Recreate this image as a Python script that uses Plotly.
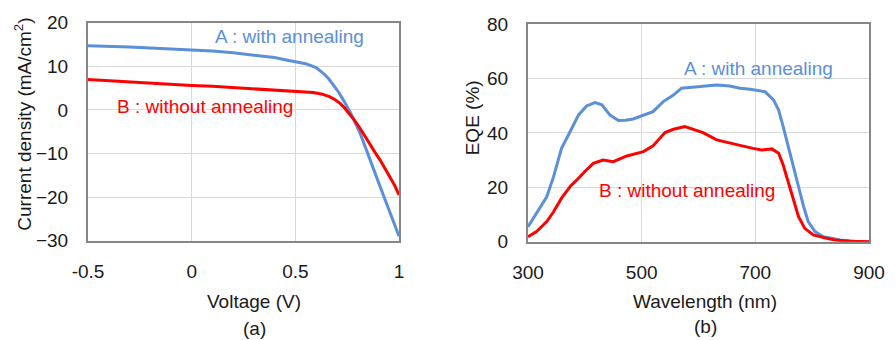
import plotly.graph_objects as go

# ---- Data: (a) J-V curves ----
volt_a = [-0.5, -0.4, -0.3, -0.2, -0.1, 0.0, 0.1, 0.2, 0.3, 0.4, 0.45, 0.5, 0.55, 0.6, 0.635,
          0.66, 0.683, 0.71, 0.731, 0.75, 0.771, 0.79, 0.812, 0.835, 0.86, 0.885, 0.909, 0.933,
          0.957, 0.98, 1.0]
curr_a = [14.7, 14.6, 14.4, 14.2, 14.0, 13.8, 13.5, 13.1, 12.6, 12.0, 11.5, 11.1, 10.6, 9.7, 8.4,
          7.2, 5.7, 4.0, 2.3, 0.7, -1.1, -3.1, -5.3, -8.2, -11.5, -14.5, -17.6, -20.6,
          -23.7, -26.3, -29.0]
volt_b = [-0.5, -0.4, -0.3, -0.2, -0.1, 0.0, 0.1, 0.2, 0.3, 0.4, 0.5, 0.587, 0.63, 0.667, 0.69,
          0.716, 0.74, 0.764, 0.79, 0.812, 0.835, 0.86, 0.885, 0.909, 0.933, 0.957, 0.98, 1.0]
curr_b = [7.0, 6.7, 6.5, 6.2, 5.9, 5.6, 5.4, 5.1, 4.8, 4.5, 4.3, 4.0, 3.6, 3.0, 2.4,
          1.5, 0.3, -1.1, -2.7, -4.2, -6.0, -8.0, -9.8, -11.5, -13.4, -15.3, -17.4, -19.5]

# ---- Data: (b) EQE spectra ----
wl_a = [300, 315, 333, 345, 359, 374, 389, 403, 418, 430, 444, 459, 472, 485, 503, 520, 538,
        556, 570, 591, 608, 632, 655, 673, 691, 717, 732, 741, 749, 758, 767, 776, 785, 793, 805,
        820, 849, 878, 900]
eqe_a = [5.5, 10.4, 16.5, 23.9, 34.3, 40.4, 46.6, 49.9, 51.1, 50.3, 46.6, 44.5, 44.6, 45.1,
         46.6, 47.8, 51.5, 53.9, 56.4, 56.8, 57.2, 57.6, 57.2, 56.4, 56.0, 55.1, 52.1, 48.4, 42.3,
         34.9, 27.6, 20.2, 12.9, 7.4, 3.7, 1.8, 0.6, 0.1, 0.0]
wl_b = [300, 315, 333, 345, 359, 375, 389, 400, 415, 432, 450, 474, 503, 520, 541, 556, 576, 591,
        608, 632, 655, 673, 696, 711, 729, 741, 749, 758, 767, 776, 787, 802, 820, 840, 866, 900]
eqe_b = [1.8, 3.7, 7.4, 11.0, 16.0, 20.5, 23.3, 25.8, 28.8, 30.0, 29.4, 31.5, 33.1, 35.2, 40.1,
         41.3, 42.3, 41.4, 40.1, 37.4, 36.4, 35.4, 34.3, 33.7, 34.1, 32.5, 28.2, 22.1, 15.3, 9.2,
         4.9, 2.5, 1.5, 0.6, 0.2, 0.0]

label_a = "A : with annealing"
label_b = "B : without annealing"
x1_ticks = [-0.5, 0, 0.5, 1]
y1_ticks = [-30, -20, -10, 0, 10, 20]
x2_ticks = [300, 500, 700, 900]
y2_ticks = [0, 20, 40, 60, 80]

BLUE = "#5B8FD8"
RED = "#FF0000"
FONT = "Liberation Sans, Arial, sans-serif"
TXT = "#1a1a1a"
W, H = 896, 340
OFF = 8  # page body margin offset
FS = 19


def px(xp):
    return (xp - OFF) / W


def py(yp):
    return 1 - (yp - OFF) / H


fig = go.Figure()
fig.add_trace(go.Scatter(x=volt_a, y=curr_a, mode="lines", line=dict(color=BLUE, width=3),
                         xaxis="x", yaxis="y", showlegend=False))
fig.add_trace(go.Scatter(x=volt_b, y=curr_b, mode="lines", line=dict(color=RED, width=3),
                         xaxis="x", yaxis="y", showlegend=False))
fig.add_trace(go.Scatter(x=wl_a, y=eqe_a, mode="lines", line=dict(color=BLUE, width=3),
                         xaxis="x2", yaxis="y2", showlegend=False))
fig.add_trace(go.Scatter(x=wl_b, y=eqe_b, mode="lines", line=dict(color=RED, width=3),
                         xaxis="x2", yaxis="y2", showlegend=False))

common = dict(showline=True, mirror=True, linecolor="#868686", linewidth=2,
              showgrid=True, gridcolor="#D9D9D9", gridwidth=1, zeroline=False,
              automargin=False, ticks="", tickfont=dict(family=FONT, size=FS, color=TXT))

fig.update_layout(
    width=W, height=H,
    margin=dict(l=0, r=0, t=0, b=0, autoexpand=False),
    paper_bgcolor="white", plot_bgcolor="white",
    xaxis=dict(domain=[px(88), px(399)], range=[-0.5, 1], tickvals=x1_ticks,
               ticktext=["-0.5", "0", "0.5", "1"], anchor="y", ticklabelstandoff=12, **common),
    yaxis=dict(domain=[py(240.7), py(22.7)], range=[-30, 20], tickvals=y1_ticks,
               anchor="x", ticklabelstandoff=14, **common),
    xaxis2=dict(domain=[px(528), px(869)], range=[300, 900], tickvals=x2_ticks,
                anchor="y2", ticklabelstandoff=12, **common),
    yaxis2=dict(domain=[py(241.7), py(24)], range=[0, 80], tickvals=y2_ticks,
                anchor="x2", ticklabelstandoff=14, **common),
)


def ann(text, x, y, xref="paper", yref="paper", color=TXT, size=FS, angle=0):
    fig.add_annotation(text=text, x=x, y=y, xref=xref, yref=yref, showarrow=False,
                       font=dict(family=FONT, size=size, color=color), textangle=angle,
                       xanchor="center", yanchor="middle")


# axis titles and panel labels (from pixel positions)
ann("Voltage (V)", px(254), py(301.7))
ann("(a)", px(254), py(328))
ann("Current density (mA/cm<sup>2</sup>)", px(22.7), py(124), angle=-90)
ann("Wavelength (nm)", px(705), py(301.7))
ann("(b)", px(705), py(326.7))
ann("EQE (%)", px(472), py(118.3), angle=-90)

# curve labels
ann(label_a, 0.474, 16.8, xref="x", yref="y", color=BLUE)
ann(label_b, 0.062, 0.76, xref="x", yref="y", color=RED)
ann(label_a, 704.7, 63.8, xref="x2", yref="y2", color=BLUE)
ann(label_b, 579.2, 18.75, xref="x2", yref="y2", color=RED)

fig.write_html("out.html")
